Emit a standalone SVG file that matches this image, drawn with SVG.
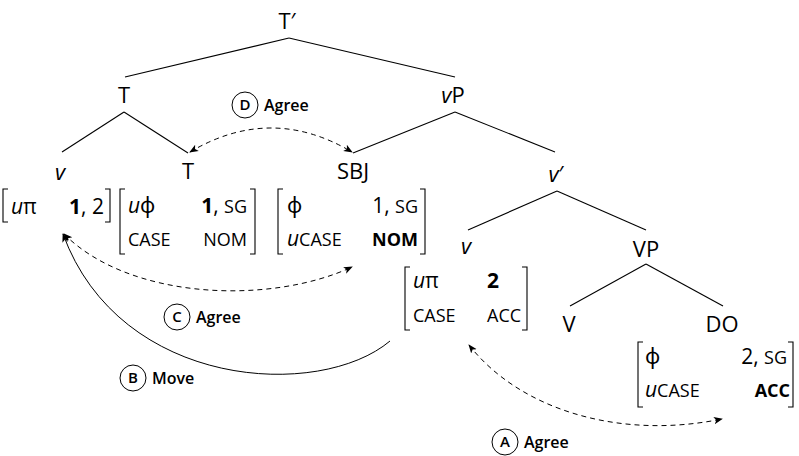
<svg xmlns="http://www.w3.org/2000/svg" width="799" height="456" viewBox="0 0 799 456">
<defs>
<marker id="ah" viewBox="0 0 10 10" refX="9" refY="5" markerWidth="9" markerHeight="9" markerUnits="userSpaceOnUse" orient="auto-start-reverse">
<path d="M0,1 L10,5 L0,9 L2.5,5 Z" fill="#000"/>
</marker>
</defs>
<style>
text{font-family:"Open Sans","Noto Sans","DejaVu Sans",sans-serif;fill:#000}
.lab{font-size:22px;text-anchor:middle}
.m{font-size:21px}
.sc{font-size:18px}
.b{font-weight:bold}
.i{font-style:italic}
.tree line{stroke:#000;stroke-width:1.1}
.br{fill:none;stroke:#000;stroke-width:1.1}
.dash{fill:none;stroke:#000;stroke-width:1;stroke-dasharray:5,4}
.solid{fill:none;stroke:#000;stroke-width:1}
.circ{fill:none;stroke:#000;stroke-width:1}
.cl{font-size:15px;font-weight:600;text-anchor:middle}
.op{font-size:16px;font-weight:600}
</style>
<g class="tree" id="edges">
<line x1="289" y1="38" x2="125" y2="77"/>
<line x1="289" y1="38" x2="455" y2="77"/>
<line x1="124" y1="112" x2="62" y2="152"/>
<line x1="124" y1="112" x2="188" y2="153"/>
<line x1="455" y1="112" x2="353" y2="153"/>
<line x1="455" y1="112" x2="555" y2="152"/>
<line x1="557" y1="191" x2="468" y2="230"/>
<line x1="557" y1="191" x2="646" y2="230"/>
<line x1="646" y1="264" x2="570" y2="306"/>
<line x1="646" y1="264" x2="723" y2="306"/>
</g>
<g id="n-Tbar"><text class="lab" x="287" y="29">T′</text></g>
<g id="n-T1"><text class="lab" x="124" y="103">T</text></g>
<g id="n-vP"><text class="lab" x="453" y="103"><tspan class="i">v</tspan>P</text></g>
<g id="n-v1">
<text class="lab" x="60" y="180"><tspan class="i">v</tspan></text>
<path class="br" d="M8,189 H3 V222 H8 M105,189 H110 V222 H105"/>
<text class="m" x="11" y="214"><tspan class="i">u</tspan>π</text>
<text class="m" x="104" y="214" text-anchor="end"><tspan class="b">1</tspan>, 2</text>
</g>
<g id="n-T2">
<text class="lab" x="188" y="179">T</text>
<path class="br" d="M125,189 H120 V254 H125 M250,189 H255 V254 H250"/>
<text class="m" x="128" y="213"><tspan class="i">u</tspan>ϕ</text>
<text class="m" x="247" y="213" text-anchor="end"><tspan class="b">1</tspan>, <tspan class="sc">SG</tspan></text>
<text class="sc" x="128" y="246">CASE</text>
<text class="sc" x="247" y="246" text-anchor="end">NOM</text>
</g>
<g id="n-SBJ">
<text class="lab" x="353" y="179">SBJ</text>
<path class="br" d="M283,189 H278 V254 H283 M420,189 H425 V254 H420"/>
<text class="m" x="287" y="213">ϕ</text>
<text class="m" x="418" y="213" text-anchor="end">1, <tspan class="sc">SG</tspan></text>
<text class="m" x="287" y="246"><tspan class="i">u</tspan><tspan class="sc">CASE</tspan></text>
<text class="sc b" x="418" y="246" text-anchor="end">NOM</text>
</g>
<g id="n-vbar"><text class="lab" x="556" y="182"><tspan class="i">v</tspan>′</text></g>
<g id="n-v2">
<text class="lab" x="466" y="254"><tspan class="i">v</tspan></text>
<path class="br" d="M410,267 H405 V330 H410 M522,267 H527 V330 H522"/>
<text class="m" x="413" y="288"><tspan class="i">u</tspan>π</text>
<text class="m b" x="487" y="288">2</text>
<text class="sc" x="413" y="322">CASE</text>
<text class="sc" x="487" y="322">ACC</text>
</g>
<g id="n-VP"><text class="lab" x="646" y="257">VP</text></g>
<g id="n-V"><text class="lab" x="569" y="332">V</text></g>
<g id="n-DO">
<text class="lab" x="722" y="332">DO</text>
<path class="br" d="M643,342 H638 V407 H643 M788,342 H793 V407 H788"/>
<text class="m" x="645" y="364">ϕ</text>
<text class="m" x="787" y="364" text-anchor="end">2, <tspan class="sc">SG</tspan></text>
<text class="m" x="645" y="397"><tspan class="i">u</tspan><tspan class="sc">CASE</tspan></text>
<text class="sc b" x="790" y="397" text-anchor="end">ACC</text>
</g>
<g id="connectors">
<path class="dash" d="M190,152 Q271,104 352,152" marker-start="url(#ah)" marker-end="url(#ah)"/>
<path class="dash" d="M64,234 C130,300 270,305 352,267" marker-start="url(#ah)" marker-end="url(#ah)"/>
<path class="solid" d="M390,341 C320,400 120,390 63,234" marker-end="url(#ah)"/>
<path class="dash" d="M469,345 C520,410 620,440 722,419" marker-start="url(#ah)" marker-end="url(#ah)"/>
</g>
<g id="label-D"><circle class="circ" cx="245" cy="105" r="13"/><text class="cl" x="245" y="110">D</text><text class="op" x="264" y="111">Agree</text></g>
<g id="label-C"><circle class="circ" cx="177" cy="317" r="13"/><text class="cl" x="177" y="322">C</text><text class="op" x="196" y="323">Agree</text></g>
<g id="label-B"><circle class="circ" cx="133" cy="378" r="13"/><text class="cl" x="133" y="383">B</text><text class="op" x="152" y="384">Move</text></g>
<g id="label-A"><circle class="circ" cx="505" cy="442" r="13"/><text class="cl" x="505" y="447">A</text><text class="op" x="524" y="448">Agree</text></g>
</svg>
